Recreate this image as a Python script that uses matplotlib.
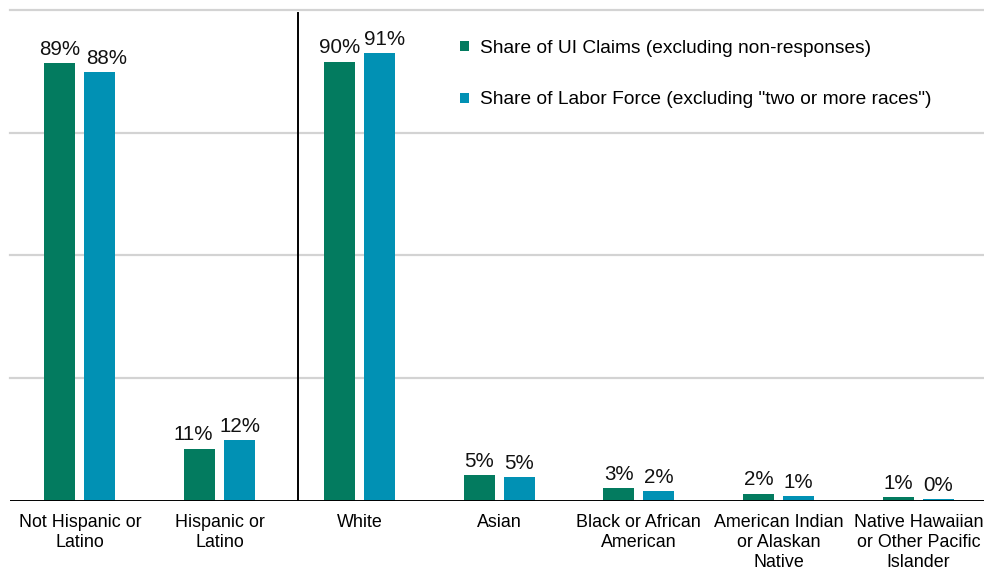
import matplotlib
matplotlib.use("Agg")
import matplotlib.pyplot as plt
import numpy as np

categories = ["Not Hispanic or\nLatino", "Hispanic or\nLatino", "White", "Asian",
              "Black or African\nAmerican", "American Indian\nor Alaskan\nNative",
              "Native Hawaiian\nor Other Pacific\nIslander"]
ui_claims = [89.1, 10.6, 89.5, 5.1, 2.5, 1.4, 0.7]
labor_force = [87.4, 12.3, 91.3, 4.7, 1.9, 0.9, 0.3]
ui_labels = ["89%", "11%", "90%", "5%", "3%", "2%", "1%"]
lf_labels = ["88%", "12%", "91%", "5%", "2%", "1%", "0%"]
series_names = ["Share of UI Claims (excluding non-responses)",
                'Share of Labor Force (excluding "two or more races")']

GREEN = "#037B5F"
BLUE = "#0191B4"

plt.rcParams['font.family'] = ['Liberation Sans', 'DejaVu Sans']

fig = plt.figure(figsize=(9.84, 5.71), dpi=100)
ax = fig.add_axes([10/984, 70.5/571, 974/984, 490.5/571])

x = np.arange(len(categories))
w = 0.222
off = 0.143
b1 = ax.bar(x - off, ui_claims, w, color=GREEN, label=series_names[0], zorder=3)
b2 = ax.bar(x + off, labor_force, w, color=BLUE, label=series_names[1], zorder=3)

# small horizontal nudges (points) to avoid label collisions, as in the reference
nudge_ui = {1: -4.5}
nudge_lf = {0: 5.0, 2: 3.5}

for i, (rect, lab) in enumerate(zip(b1, ui_labels)):
    ax.annotate(lab, (rect.get_x() + rect.get_width()/2, rect.get_height()),
                xytext=(nudge_ui.get(i, 0), 3), textcoords="offset points",
                ha="center", va="bottom", fontsize=14.8, color="#111111")
for i, (rect, lab) in enumerate(zip(b2, lf_labels)):
    ax.annotate(lab, (rect.get_x() + rect.get_width()/2, rect.get_height()),
                xytext=(nudge_lf.get(i, 0), 3), textcoords="offset points",
                ha="center", va="bottom", fontsize=14.8, color="#111111")

ax.set_xlim(-0.5, 6.47)
ax.set_ylim(0, 100)
for yv in [25, 50, 75, 100]:
    ax.axhline(yv, color="#D3D3D3", lw=1.6, zorder=1, clip_on=False)
ax.axhline(0, color="black", lw=1.4, zorder=4)
ax.plot([1.56, 1.56], [0, 99.4], color="black", lw=1.4, zorder=4)

for s in ax.spines.values():
    s.set_visible(False)
ax.set_yticks([])
ax.set_xticks(x)
ax.set_xticklabels(categories, fontsize=12.9, linespacing=1.2)
ax.tick_params(axis="x", length=0, pad=10)

leg = ax.legend(loc="upper left", bbox_to_anchor=(460/984, 1 - 40/571),
                bbox_transform=fig.transFigure, frameon=False, fontsize=13.8,
                handlelength=0.45, handleheight=0.45, handletextpad=0.6,
                labelspacing=1.8, borderaxespad=0, borderpad=0)

fig.savefig("out.png", dpi=100)
